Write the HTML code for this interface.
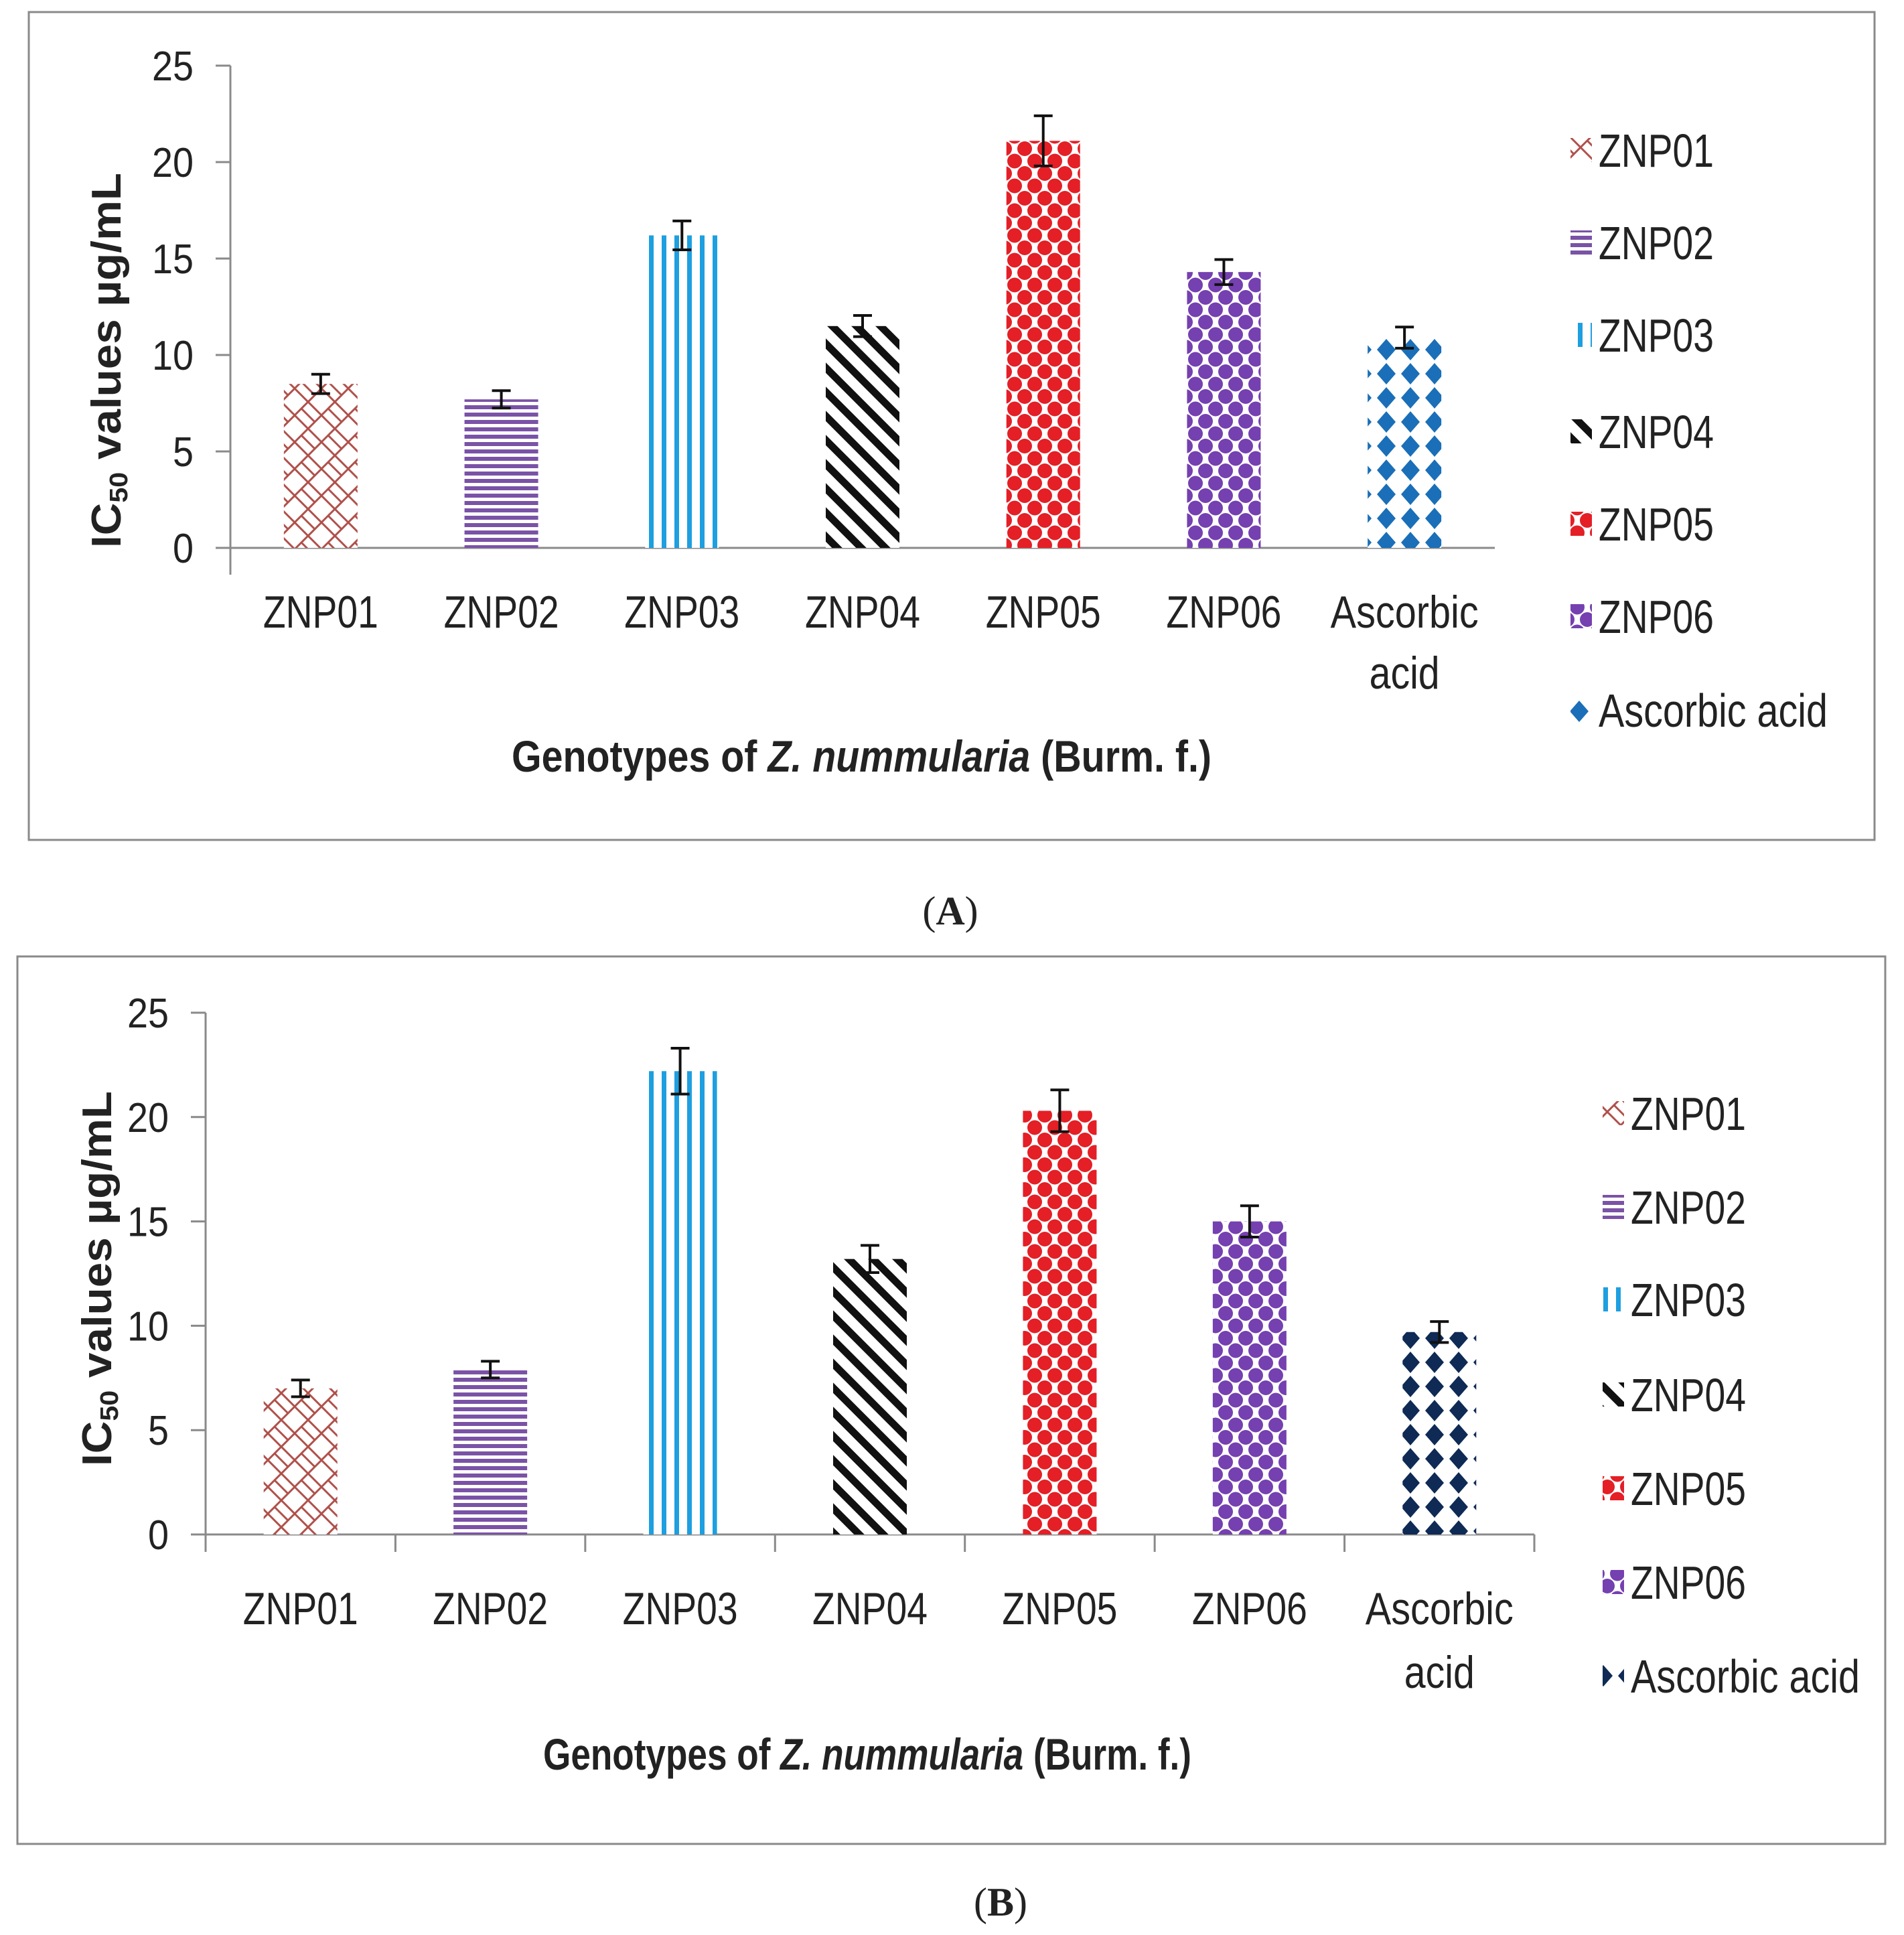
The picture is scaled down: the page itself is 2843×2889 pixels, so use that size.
<!DOCTYPE html>
<html><head><meta charset="utf-8"><style>
html,body{margin:0;padding:0;background:#fff;}
svg{display:block;}
text{font-family:"Liberation Sans",sans-serif;fill:#222;}
</style></head><body>
<svg id="chart" xmlns="http://www.w3.org/2000/svg" width="2843" height="2889" viewBox="0 0 2843 2889">
<defs>
<pattern id="p1" patternUnits="userSpaceOnUse" width="40" height="40"><rect width="40" height="40" fill="#fff"/><path d="M0 20 L20 0 M20 0 L40 20 M0 20 L20 40 M20 40 L40 20" stroke="#b0504a" stroke-width="3" fill="none"/><path d="M10 10 L30 30" stroke="#b0504a" stroke-width="3"/></pattern>
<pattern id="p2" patternUnits="userSpaceOnUse" width="10" height="11"><rect width="10" height="11" fill="#fff"/><rect width="10" height="6" fill="#7a52a6"/></pattern>
<pattern id="p3" patternUnits="userSpaceOnUse" width="19" height="10"><rect width="19" height="10" fill="#fff"/><rect width="7" height="10" fill="#1e9fe0"/></pattern>
<pattern id="p4" patternUnits="userSpaceOnUse" width="36" height="36"><rect width="36" height="36" fill="#fff"/><path d="M-9 -9 L45 45 M-27 9 L27 63 M9 -27 L63 27" stroke="#111" stroke-width="11"/></pattern>
<pattern id="p5" patternUnits="userSpaceOnUse" width="30" height="37"><rect width="30" height="37" fill="#fff"/><circle cx="0" cy="0" r="11" fill="#e41f26"/><circle cx="30" cy="0" r="11" fill="#e41f26"/><circle cx="0" cy="37" r="11" fill="#e41f26"/><circle cx="30" cy="37" r="11" fill="#e41f26"/><circle cx="15" cy="18.5" r="11" fill="#e41f26"/></pattern>
<pattern id="p6" patternUnits="userSpaceOnUse" width="30" height="37"><rect width="30" height="37" fill="#fff"/><circle cx="0" cy="0" r="11" fill="#7540b0"/><circle cx="30" cy="0" r="11" fill="#7540b0"/><circle cx="0" cy="37" r="11" fill="#7540b0"/><circle cx="30" cy="37" r="11" fill="#7540b0"/><circle cx="15" cy="18.5" r="11" fill="#7540b0"/></pattern>
<pattern id="p7a" patternUnits="userSpaceOnUse" width="36" height="36"><rect width="36" height="36" fill="#fff"/><path d="M18 2 L32 18 L18 34 L4 18Z" fill="#1a6fb8"/></pattern>
<pattern id="p7b" patternUnits="userSpaceOnUse" width="36" height="36"><rect width="36" height="36" fill="#fff"/><path d="M18 2 L32 18 L18 34 L4 18Z" fill="#0e2a55"/></pattern>
</defs>
</svg>
<script>
const categories = ["ZNP01","ZNP02","ZNP03","ZNP04","ZNP05","ZNP06","Ascorbic acid"];
const valuesA = [8.5, 7.7, 16.2, 11.5, 21.1, 14.3, 10.9];
const errorsA = [0.5, 0.45, 0.75, 0.55, 1.3, 0.65, 0.55];
const valuesB = [7.0, 7.9, 22.2, 13.2, 20.3, 15.0, 9.7];
const errorsB = [0.4, 0.4, 1.1, 0.65, 1.0, 0.75, 0.5];
const yTicks = [0, 5, 10, 15, 20, 25];

const NS = "http://www.w3.org/2000/svg";
const svg = document.getElementById("chart");
function mk(tag, attrs, parent) {
  const e = document.createElementNS(NS, tag);
  for (const k in attrs) e.setAttribute(k, attrs[k]);
  (parent || svg).appendChild(e);
  return e;
}

const panels = [
  {id:"a", box:[43,18,2799,1254], x0:344, x1:2232, y0:818, y25:98, vals:valuesA, errs:errorsA,
   tickRight:289, catY:937, acidY:1028, titleY:1152, titleX:764, titleW:1045, yTitleX:158, yTitleY:538,
   legX:2387, legY:[224,362,500,644,782,920,1060], pats:["p1","p2","p3","p4","p5","p6","p7a"], label:"A", labelX:1419, labelY:1380, yAxisExt:40, sepTicks:false},
  {id:"b", box:[26,1428,2815,2753], x0:307, x1:2291, y0:2291, y25:1512, vals:valuesB, errs:errorsB,
   tickRight:252, catY:2425, acidY:2520, titleY:2642, titleX:811, titleW:968, yTitleX:144, yTitleY:1909,
   legX:2435, legY:[1662,1802,1940,2082,2222,2362,2502], pats:["p1","p2","p3","p4","p5","p6","p7b"], label:"B", labelX:1494, labelY:2860, yAxisExt:0, sepTicks:true}
];

panels.forEach(P => {
  const g = mk("g", {});
  
  
  const frame = mk("rect", {x:P.box[0], y:P.box[1], width:P.box[2]-P.box[0], height:P.box[3]-P.box[1], fill:"none", stroke:"#8a8a8a", "stroke-width":3}, g);
  
  
  const yScale = v => P.y0 - v * (P.y0 - P.y25) / 25;
  const band = (P.x1 - P.x0) / categories.length;
  const xCenter = i => P.x0 + band * (i + 0.5);

  const ya = mk("line", {x1:P.x0, y1:P.y25, x2:P.x0, y2:P.y0 + P.yAxisExt, stroke:"#8a8a8a", "stroke-width":3}, g);
  
  
  const xa = mk("line", {x1:P.x0, y1:P.y0, x2:P.x1, y2:P.y0, stroke:"#8a8a8a", "stroke-width":3}, g);
  
  
  if (P.sepTicks) {
    for (let i = 0; i <= categories.length; i++) {
      const t = mk("line", {x1:P.x0 + band*i, y1:P.y0, x2:P.x0 + band*i, y2:P.y0 + 26, stroke:"#8a8a8a", "stroke-width":3}, g);
      
      
    }
  }
  yTicks.forEach(v => {
    const t = mk("line", {x1:P.x0 - 22, y1:yScale(v), x2:P.x0, y2:yScale(v), stroke:"#8a8a8a", "stroke-width":3}, g);
    
    
    const l = mk("text", {x:P.tickRight, y:yScale(v) + 22, "text-anchor":"end", "font-size":62, textLength: v >= 10 ? 62 : 31, lengthAdjust:"spacingAndGlyphs"}, g);
    l.textContent = v;
    
    
  });

  const bw = 110;
  P.vals.forEach((v, i) => {
    const b = mk("rect", {x:xCenter(i) - bw/2, y:yScale(v), width:bw, height:P.y0 - yScale(v), fill:"url(#" + P.pats[i] + ")"}, g);
    
    
    const e = P.errs[i], cx = xCenter(i);
    const eb = mk("path", {d:`M${cx-14} ${yScale(v+e)} H${cx+14} M${cx} ${yScale(v+e)} V${yScale(v-e)} M${cx-14} ${yScale(v-e)} H${cx+14}`, stroke:"#111", "stroke-width":4, fill:"none"}, g);
    
    
  });

  categories.forEach((c, i) => {
    if (c === "Ascorbic acid") {
      const t1 = mk("text", {x:xCenter(i), y:P.catY, "text-anchor":"middle", "font-size":68, textLength:221, lengthAdjust:"spacingAndGlyphs"}, g);
      t1.textContent = "Ascorbic";
      
      
      const t2 = mk("text", {x:xCenter(i), y:P.acidY, "text-anchor":"middle", "font-size":68, textLength:105, lengthAdjust:"spacingAndGlyphs"}, g);
      t2.textContent = "acid";
      
      
    } else {
      const t = mk("text", {x:xCenter(i), y:P.catY, "text-anchor":"middle", "font-size":68, textLength:172, lengthAdjust:"spacingAndGlyphs"}, g);
      t.textContent = c;
      
      
    }
  });

  const xt = mk("text", {x:P.titleX, y:P.titleY, "font-size":66, "font-weight":"bold", textLength:P.titleW, lengthAdjust:"spacingAndGlyphs"}, g);
  xt.innerHTML = 'Genotypes of <tspan font-style="italic">Z. nummularia</tspan> (Burm. f.)';
  
  

  const yt = mk("text", {x:0, y:0, "font-size":62, "font-weight":"bold", "text-anchor":"middle", transform:`translate(${P.yTitleX + 22},${P.yTitleY}) rotate(-90)`, textLength:560, lengthAdjust:"spacingAndGlyphs"}, g);
  yt.innerHTML = 'IC<tspan font-size="38" dy="10">50</tspan><tspan dy="-10"> values µg/mL</tspan>';
  
  

  categories.forEach((c, i) => {
    const lg = mk("g", {}, g);
    
    
    const y = P.legY[i];
    mk("rect", {x:P.legX - 42, y:y - 18, width:32, height:36, fill:"url(#" + P.pats[i] + ")"}, lg);
    const t = mk("text", {x:P.legX, y:y + 25, "font-size":70, textLength: c === "Ascorbic acid" ? 342 : 172, lengthAdjust:"spacingAndGlyphs"}, lg);
    t.textContent = c;
  });

  const pl = mk("text", {x:P.labelX, y:P.labelY, "text-anchor":"middle", "font-size":60, style:'font-family:"Liberation Serif",serif'}, svg);
  pl.innerHTML = '(<tspan font-weight="bold">' + P.label + '</tspan>)';
  
  
});
</script>
</body></html>
